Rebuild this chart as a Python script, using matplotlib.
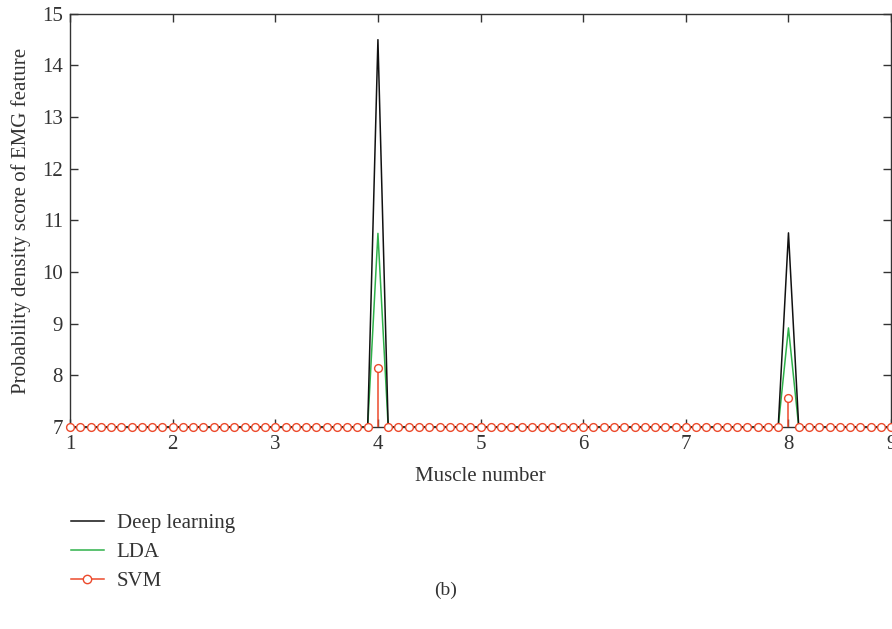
import numpy as np
import matplotlib
matplotlib.use('Agg')
import matplotlib.pyplot as plt
from matplotlib.lines import Line2D
from matplotlib.legend_handler import HandlerLine2D

# muscle positions, sampled every 0.1 from 1 to 9
muscle = [round(1 + 0.1 * i, 1) for i in range(81)]

base = 7.0
# peaks (everything else sits on the baseline)
deep_peaks = {4.0: 14.5, 8.0: 10.76}
lda_peaks = {4.0: 10.75, 8.0: 8.92}
svm_peaks = {4.0: 8.14, 8.0: 7.57}

deep_learning = [deep_peaks.get(m, base) for m in muscle]
lda = [lda_peaks.get(m, base) for m in muscle]
svm = [svm_peaks.get(m, base) for m in muscle]

x_ticks = [1, 2, 3, 4, 5, 6, 7, 8, 9]
y_ticks = [7, 8, 9, 10, 11, 12, 13, 14, 15]

BLACK = '#111111'
GREEN = '#2fb14a'
RED = '#ec4a2c'


class MarkerRightHandler(HandlerLine2D):
    # legend entry: line with the circle at its right end
    def get_xdata(self, legend, xdescent, ydescent, width, height, fontsize):
        xdata = np.linspace(-xdescent, width, 2)
        return xdata, [width - xdescent - 4]


plt.rcParams['font.family'] = ['Liberation Serif', 'DejaVu Serif']

fig = plt.figure(figsize=(8.92, 6.29), dpi=100)
ax = fig.add_axes([0.0785, 0.321, 0.9205, 0.657])

ax.plot(muscle, lda, color=GREEN, lw=1.1, zorder=2)
ax.plot(muscle, deep_learning, color=BLACK, lw=1.1, zorder=3)
ax.vlines(muscle, base, svm, color=RED, lw=1.1, zorder=4)
ax.plot(muscle, svm, ls='none', marker='o', ms=5.6, mfc='white', mec=RED,
        mew=1.0, zorder=5, clip_on=False)

ax.set_xlim(1, 9)
ax.set_ylim(7, 15)
ax.set_xticks(x_ticks)
ax.set_yticks(y_ticks)
ax.tick_params(direction='in', length=6, width=1, top=True, right=True,
               labelsize=15, colors='#333333', pad=6)
ax.tick_params(axis='y', pad=5)
for s in ax.spines.values():
    s.set_color('#333333')
    s.set_linewidth(1.0)

ax.set_xlabel('Muscle number', fontsize=15, color='#333333', labelpad=9)
ax.set_ylabel('Probability density score of EMG feature', fontsize=15,
              color='#333333', labelpad=8)

handles = [Line2D([], [], color=BLACK, lw=1.1),
           Line2D([], [], color=GREEN, lw=1.1),
           Line2D([], [], color=RED, lw=1.1, marker='o', ms=6, mfc='white',
                  mec=RED, mew=1.0)]
leg = fig.legend(handles, ['Deep learning', 'LDA', 'SVM'],
                 loc='upper left', bbox_to_anchor=(0.0793, 0.184),
                 frameon=False, fontsize=15, handlelength=1.6,
                 handletextpad=0.6, labelspacing=0.46, numpoints=1,
                 borderaxespad=0, borderpad=0,
                 handler_map={Line2D: MarkerRightHandler()})
for t in leg.get_texts():
    t.set_color('#333333')

fig.text(0.5, 0.062, '(b)', ha='center', va='center', fontsize=14,
         color='#333333')

fig.savefig('out.png', dpi=100)
